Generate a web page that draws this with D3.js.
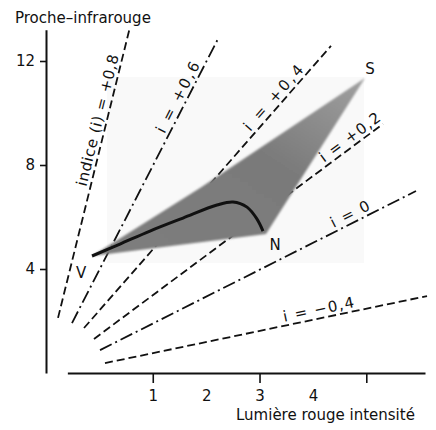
<!DOCTYPE html>
<html>
<head>
<meta charset="utf-8">
<script src="https://cdn.jsdelivr.net/npm/d3@7"></script>
<style>
    body { margin: 0; background: #fff; }
    text { font-family: "DejaVu Sans", sans-serif; fill: #111; }
</style>
</head>
<body>
<svg id="chart" width="436" height="430"></svg>
<script>
// iso-index lines (i) in axis units
const indexValues = [0.8, 0.6, 0.4, 0.2, 0, -0.4];
const indexLabels = ["indice (i) = +0,8", "i = +0,6", "i = +0,4", "i = +0,2", "i = 0", "i = \u22120,4"];
const lineStart = [[-0.775, 2.12], [-0.513, 1.92], [-0.288, 1.73], [-0.101, 1.31], [0.012, 0.88], [0.105, 0.38]];
const lineEnd = [[0.574, 13.31], [2.222, 12.85], [4.339, 12.58], [5.313, 9.58], [5.931, 7.0], [6.138, 2.96]];

// V - N - S triangle and the path inside it
const triangle = [[-0.138, 4.5], [3.121, 5.35], [4.976, 11.35], [1.885, 7.115]];
const pathX = [-0.138, 0.386, 0.948, 1.567, 2.203, 2.503, 2.766, 2.953, 3.065];
const pathY = [4.5, 4.96, 5.46, 5.96, 6.46, 6.58, 6.38, 5.92, 5.46];
const pointNames = ["V", "N", "S"];
const pointX = [-0.344, 3.29, 5.07];
const pointY = [3.88, 4.92, 11.69];

// photo backdrop behind the triangle
const backdrop = [0.143, 4.23, 4.957, 11.38];

const yTicks = [4, 8, 12];
const xTickMarks = [1, 3, 5];
const xTickLabels = [1, 2, 3, 4];

const svg = d3.select("#chart");

const x = d3.scaleLinear().domain([-1, 6.1]).range([46, 425]);
const y = d3.scaleLinear().domain([0, 13.2]).range([373, 29.8]);

// label placement along each line (fraction of length, drawn length in px)
const labelAt = [0.672, 0.78, 0.795, 0.904, 0.804, 0.669];
const labelLen = [135, 78, 82, 72, 42, 72];

svg.append("rect")
    .attr("x", x(backdrop[0]))
    .attr("y", y(backdrop[3]))
    .attr("width", x(backdrop[2]) - x(backdrop[0]))
    .attr("height", y(backdrop[1]) - y(backdrop[3]))
    .attr("fill", "#f9f9f9");

const dashDot = new Set([0.6, 0]);

svg.selectAll(".iso")
    .data(indexValues)
    .enter()
    .append("line")
    .attr("class", "iso")
    .attr("x1", (d, i) => x(lineStart[i][0]))
    .attr("y1", (d, i) => y(lineStart[i][1]))
    .attr("x2", (d, i) => x(lineEnd[i][0]))
    .attr("y2", (d, i) => y(lineEnd[i][1]))
    .attr("stroke", "#111")
    .attr("stroke-width", 1.8)
    .attr("stroke-dasharray", d => dashDot.has(d) ? "13,4,2,4" : "8,4");

// triangle
const defs = svg.append("defs");
defs.append("filter").attr("id", "soft")
    .append("feGaussianBlur").attr("stdDeviation", 1.1);

const grad = defs.append("linearGradient").attr("id", "shade")
    .attr("x1", "0").attr("y1", "1").attr("x2", "1").attr("y2", "0");
grad.append("stop").attr("offset", "0").attr("stop-color", "#7e7e7e");
grad.append("stop").attr("offset", "0.6").attr("stop-color", "#7a7a7a");
grad.append("stop").attr("offset", "1").attr("stop-color", "#a0a0a0");

svg.append("path")
    .attr("d", d3.line().x(d => x(d[0])).y(d => y(d[1]))(triangle) + "Z")
    .attr("fill", "url(#shade)")
    .attr("filter", "url(#soft)");

svg.append("path")
    .datum(pathX.map((v, i) => [v, pathY[i]]))
    .attr("d", d3.line().x(d => x(d[0])).y(d => y(d[1])).curve(d3.curveCatmullRom))
    .attr("fill", "none")
    .attr("stroke", "#111")
    .attr("stroke-width", 3);

// labels on the lines
svg.selectAll(".iso-label")
    .data(indexLabels)
    .enter()
    .append("text")
    .attr("class", "iso-label")
    .attr("transform", (d, i) => {
        const x1 = x(lineStart[i][0]), y1 = y(lineStart[i][1]);
        const x2 = x(lineEnd[i][0]), y2 = y(lineEnd[i][1]);
        const t = labelAt[i];
        const ang = Math.atan2(y2 - y1, x2 - x1) * 180 / Math.PI;
        return `translate(${x1 + (x2 - x1) * t},${y1 + (y2 - y1) * t}) rotate(${ang})`;
    })
    .attr("y", -4)
    .attr("text-anchor", "middle")
    .attr("textLength", (d, i) => labelLen[i])
    .attr("lengthAdjust", "spacing")
    .style("font-size", "15px")
    .text(d => d);

svg.selectAll(".pt")
    .data(pointNames)
    .enter()
    .append("text")
    .attr("class", "pt")
    .attr("x", (d, i) => x(pointX[i]))
    .attr("y", (d, i) => y(pointY[i]))
    .attr("dy", "0.36em")
    .attr("text-anchor", "middle")
    .style("font-size", "15px")
    .text(d => d);

// axes
svg.append("g")
    .attr("transform", `translate(${x(-1)},0)`)
    .call(d3.axisLeft(y).tickValues(yTicks).tickSize(6).tickSizeOuter(0).tickPadding(5));

const xAxisScale = x.copy().domain([-0.6, 6.1]).range([x(-0.6), x(6.1)]);
svg.append("g")
    .attr("transform", `translate(0,${y(0)})`)
    .call(d3.axisBottom(xAxisScale).tickValues(xTickMarks).tickSize(10).tickSizeOuter(0).tickFormat(""));

svg.append("g")
    .attr("transform", `translate(0,${y(0)})`)
    .call(d3.axisBottom(x).tickValues(xTickLabels).tickSize(0).tickPadding(17))
    .call(g => g.select(".domain").remove());

svg.selectAll(".domain").attr("stroke", "#111").attr("stroke-width", 2);
svg.selectAll(".tick line").attr("stroke", "#111").attr("stroke-width", 1.6);
svg.selectAll(".tick text")
    .style("font-family", "DejaVu Sans, sans-serif")
    .style("font-size", "15px")
    .attr("fill", "#111");

svg.append("text")
    .attr("x", 15)
    .attr("y", 23)
    .style("font-size", "15px")
    .text("Proche\u2013infrarouge");

svg.append("text")
    .attr("x", 236)
    .attr("y", 420)
    .style("font-size", "15px")
    .text("Lumi\u00e8re rouge intensit\u00e9");
</script>
</body>
</html>
